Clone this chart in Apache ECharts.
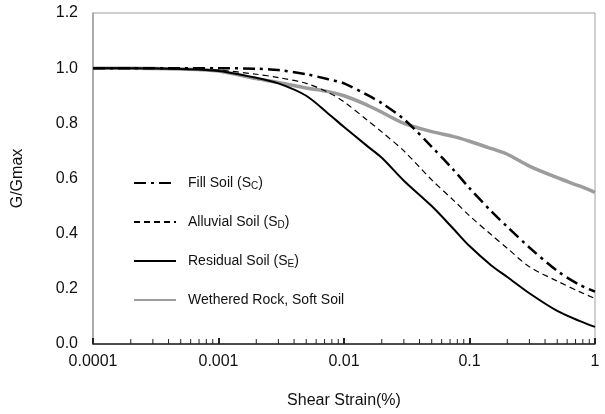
<!DOCTYPE html>
<html>
<head>
<meta charset="utf-8">
<script src="https://cdn.jsdelivr.net/npm/echarts@6/dist/echarts.min.js"></script>
<style>
  html, body { margin: 0; padding: 0; background: #fff; }
  #chart { width: 605px; height: 414px; }
</style>
</head>
<body>
<div id="chart"></div>
<script>
// Shear strain (%) sample points shared by all curves
const strain = [0.0001, 0.0002, 0.0005, 0.001, 0.002, 0.003, 0.005, 0.0075, 0.01, 0.015, 0.02,
                0.03, 0.05, 0.075, 0.1, 0.15, 0.2, 0.3, 0.5, 0.75, 1];

// G/Gmax modulus reduction per soil class
const fillSoil     = [1.0, 1.0, 1.0, 1.0, 0.998, 0.993, 0.978, 0.96, 0.945, 0.905, 0.873,
                      0.815, 0.715, 0.63, 0.565, 0.48, 0.425, 0.35, 0.265, 0.215, 0.19];
const alluvialSoil = [1.0, 1.0, 0.998, 0.993, 0.978, 0.966, 0.945, 0.912, 0.878, 0.815, 0.769,
                      0.70, 0.595, 0.52, 0.465, 0.395, 0.347, 0.28, 0.228, 0.19, 0.165];
const residualSoil = [1.0, 1.0, 0.997, 0.99, 0.965, 0.945, 0.90, 0.835, 0.787, 0.721, 0.675,
                      0.592, 0.50, 0.416, 0.355, 0.284, 0.243, 0.184, 0.12, 0.084, 0.062];
const weatheredRock = [1.0, 1.0, 0.997, 0.99, 0.962, 0.948, 0.928, 0.915, 0.90, 0.868, 0.84,
                       0.80, 0.77, 0.752, 0.735, 0.708, 0.688, 0.645, 0.603, 0.573, 0.55];

// Legend labels: main text plus subscript
const seriesNames = ['Fill Soil (SC)', 'Alluvial Soil (SD)', 'Residual Soil (SE)', 'Wethered Rock, Soft Soil'];
const legendMain = ['Fill Soil (S', 'Alluvial Soil (S', 'Residual Soil (S', 'Wethered Rock, Soft Soil'];
const legendSub  = ['C', 'D', 'E', ''];

// Axis ticks
const xMajorTicks = [0.0001, 0.001, 0.01, 0.1, 1];
const xTickLabels = ['0.0001', '0.001', '0.01', '0.1', '1'];
const xMinorTicks = [];
[0.0001, 0.001, 0.01, 0.1].forEach(d => { for (let k = 2; k <= 9; k++) xMinorTicks.push(+(d * k).toPrecision(3)); });

const FONT = '"Liberation Sans", Arial, sans-serif';

function pairs(ys) { return strain.map((x, i) => [x, ys[i]]); }

const chart = echarts.init(document.getElementById('chart'), null, { renderer: 'canvas' });

chart.setOption({
  animation: false,
  backgroundColor: '#fff',
  textStyle: { fontFamily: FONT },
  grid: { left: 93, right: 10, top: 13, bottom: 68, show: true, borderColor: '#a0a0a0', borderWidth: 1, backgroundColor: 'transparent' },
  legend: {
    orient: 'vertical',
    left: 128, top: 171,
    itemWidth: 42, itemHeight: 14, itemGap: 24,
    data: seriesNames,
    itemStyle: { opacity: 0 },
    formatter: function (name) {
      const i = seriesNames.indexOf(name);
      let s = '{p|}{a|' + legendMain[i] + '}';
      if (legendSub[i]) s += '{s|' + legendSub[i] + '}{a|)}';
      return s;
    },
    textStyle: {
      fontFamily: FONT,
      rich: {
        p: { width: 7 },
        a: { fontSize: 14, color: '#111', fontFamily: FONT },
        s: { fontSize: 10, color: '#111', fontFamily: FONT, verticalAlign: 'bottom', padding: [6, 0, 0, 0] }
      }
    }
  },
  xAxis: {
    type: 'log', logBase: 10, min: 0.0001, max: 1,
    name: 'Shear Strain(%)', nameLocation: 'middle', nameGap: 49,
    nameTextStyle: { fontSize: 16, color: '#111', fontFamily: FONT },
    axisLine: { lineStyle: { color: '#222', width: 1.5 } },
    axisTick: { show: true, inside: true, length: 6, lineStyle: { color: '#222', width: 2 } },
    axisLabel: {
      fontSize: 16, color: '#111', margin: 10, fontFamily: FONT,
      formatter: function (v) {
        const i = xMajorTicks.findIndex(t => Math.abs(Math.log10(t) - Math.log10(v)) < 1e-6);
        return i >= 0 ? xTickLabels[i] : '';
      }
    },
    splitLine: { show: false },
    minorTick: { show: false }
  },
  yAxis: {
    type: 'value', min: 0, max: 1.2, interval: 0.2,
    name: 'G/Gmax', nameLocation: 'middle', nameGap: 67,
    nameTextStyle: { fontSize: 16, color: '#111', fontFamily: FONT },
    axisLine: { show: true, lineStyle: { color: '#a0a0a0', width: 1.5 } },
    axisTick: { show: false },
    axisLabel: { fontSize: 16, color: '#111', margin: 15, fontFamily: FONT, formatter: v => v.toFixed(1) },
    splitLine: { show: false }
  },
  series: [
    { name: seriesNames[0], type: 'line', symbol: 'none', smooth: 0.3, data: pairs(fillSoil),
      lineStyle: { color: '#000', width: 2.5, type: [12, 5, 3, 5] }, itemStyle: { color: '#000' }, z: 4 },
    { name: seriesNames[1], type: 'line', symbol: 'none', smooth: 0.3, data: pairs(alluvialSoil),
      lineStyle: { color: '#000', width: 1.2, type: [6, 4] }, itemStyle: { color: '#000' }, z: 3 },
    { name: seriesNames[2], type: 'line', symbol: 'none', smooth: 0.3, data: pairs(residualSoil),
      lineStyle: { color: '#000', width: 2 }, itemStyle: { color: '#000' }, z: 3 },
    { name: seriesNames[3], type: 'line', symbol: 'none', smooth: 0.3, data: pairs(weatheredRock),
      lineStyle: { color: '#9c9c9c', width: 3.5 }, itemStyle: { color: '#9c9c9c' }, z: 2 },
    // minor ticks of the log axis, drawn at each 2..9 multiple along the bottom
    { name: 'minorTicks', type: 'custom', silent: true, z: 5,
      data: xMinorTicks.map(v => [v, 0]),
      renderItem: function (params, api) {
        const p = api.coord([api.value(0), api.value(1)]);
        return { type: 'line', shape: { x1: p[0], y1: p[1], x2: p[0], y2: p[1] - 5 },
                 style: { stroke: '#222', lineWidth: 1 } };
      }
    }
  ]
});
</script>
</body>
</html>
